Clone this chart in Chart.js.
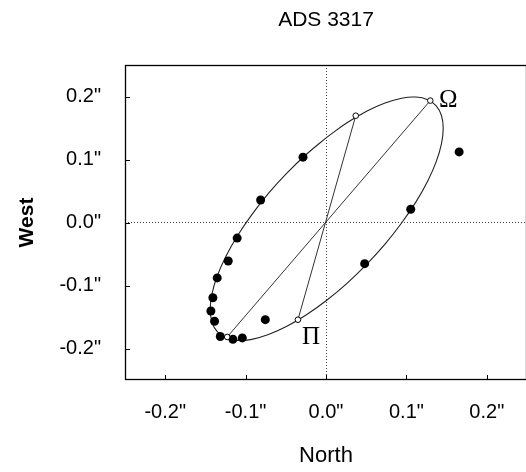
<!DOCTYPE html>
<html><head><meta charset="utf-8">
<script src="https://cdn.jsdelivr.net/npm/chart.js@4"></script>
<style>
html,body{margin:0;padding:0;background:#fff;overflow:hidden}
canvas{display:block}
</style></head>
<body><canvas id="c" width="534" height="472" style="width:534px;height:472px"></canvas>
<script>
const chartTitle = 'ADS 3317';
const xTitle = 'North';
const yTitle = 'West';
const tickValues = [-0.2, -0.1, 0, 0.1, 0.2];
const tickLabels = ['-0.2"', '-0.1"', '0.0"', '0.1"', '0.2"'];

// observed positions (filled dots)
const obsNorth = [-0.0286, -0.0813, -0.1105, -0.1216, -0.1353, -0.1407, -0.1432, -0.1386, -0.1315, -0.1158, -0.1041, -0.0755, 0.0481, 0.1054, 0.1656];
const obsWest  = [ 0.1037,  0.0358, -0.0248, -0.0611, -0.0879, -0.1195, -0.1405, -0.1568, -0.1810, -0.1853, -0.1832, -0.1542, -0.0653, 0.0210, 0.1121];

// orbit ellipse
const ellipseNorth = [0.0009, -0.0243, -0.0487, -0.0716, -0.0922, -0.1101, -0.1246, -0.1353, -0.1418, -0.1440, -0.1418, -0.1353, -0.1246, -0.1101, -0.0922, -0.0716, -0.0487, -0.0243, 0.0009, 0.0261, 0.0505, 0.0734, 0.0940, 0.1119, 0.1264, 0.1371, 0.1436, 0.1458, 0.1436, 0.1371, 0.1264, 0.1119, 0.0940, 0.0734, 0.0505, 0.0261, 0.0009];
const ellipseWest  = [0.1352, 0.1083, 0.0783, 0.0461, 0.0126, -0.0210, -0.0538, -0.0849, -0.1131, -0.1377, -0.1580, -0.1733, -0.1832, -0.1873, -0.1855, -0.1779, -0.1648, -0.1464, -0.1234, -0.0965, -0.0665, -0.0343, -0.0008, 0.0328, 0.0656, 0.0967, 0.1249, 0.1495, 0.1698, 0.1851, 0.1950, 0.1991, 0.1973, 0.1897, 0.1766, 0.1582, 0.1352];

// line of nodes and line of apsides
const nodeNorth = [0.1297, -0.1229];
const nodeWest  = [0.1935, -0.1817];
const apsNorth  = [0.0370, -0.0349];
const apsWest   = [0.1695, -0.1543];

// open markers and their labels
const markNorth  = [0.1297, 0.0370, -0.0349, -0.1229];
const markWest   = [0.1935, 0.1695, -0.1543, -0.1817];
const markLabels = ['Ω', '', 'Π', ''];

const pts = (xs, ys) => xs.map((x, i) => ({x: x, y: ys[i]}));
const FONT = "'Liberation Sans', Arial, Helvetica, sans-serif";

const decor = {
  id: 'decor',
  afterDraw(chart) {
    const ctx = chart.ctx, a = chart.chartArea;
    const xs = chart.scales.x, ys = chart.scales.y;
    ctx.save();
    // frame
    ctx.strokeStyle = '#000'; ctx.lineWidth = 1.3;
    ctx.strokeRect(a.left + 0.5, a.top + 0.5, a.right - a.left - 1, a.bottom - a.top - 1);
    // inward ticks
    ctx.lineWidth = 1;
    tickValues.forEach(v => {
      const px = Math.round(xs.getPixelForValue(v)) + 0.5;
      ctx.beginPath(); ctx.moveTo(px, a.bottom); ctx.lineTo(px, a.bottom - 5); ctx.stroke();
      const py = Math.round(ys.getPixelForValue(v)) + 0.5;
      ctx.beginPath(); ctx.moveTo(a.left, py); ctx.lineTo(a.left + 5, py); ctx.stroke();
    });
    // title centred on the plot
    ctx.fillStyle = '#000';
    ctx.font = '21px ' + FONT;
    ctx.textAlign = 'center'; ctx.textBaseline = 'middle';
    ctx.fillText(chartTitle, (xs.getPixelForValue(0)), 20);
    // marker labels
    ctx.font = "25px 'Liberation Serif', 'Times New Roman', serif";
    markLabels.forEach((t, i) => {
      if (!t) return;
      const px = xs.getPixelForValue(markNorth[i]);
      const py = ys.getPixelForValue(markWest[i]);
      if (t === 'Ω') ctx.fillText(t, px + 18, py);
      else ctx.fillText(t, px + 13, py + 18);
    });
    ctx.restore();
  }
};

const gridCfg = {
  drawTicks: false,
  lineWidth: 1,
  color: c => (c.tick && Math.abs(c.tick.value) < 1e-9) ? '#444' : 'rgba(0,0,0,0)'
};

new Chart(document.getElementById('c'), {
  type: 'scatter',
  data: {
    datasets: [
      { data: pts(markNorth, markWest), pointRadius: 2.8, pointBackgroundColor: '#fff', pointBorderColor: '#000', pointBorderWidth: 1, showLine: false },
      { data: pts(obsNorth, obsWest), pointRadius: 4.5, pointBackgroundColor: '#000', pointBorderColor: '#000', pointBorderWidth: 0, showLine: false },
      { data: pts(nodeNorth, nodeWest), showLine: true, pointRadius: 0, borderColor: '#333', borderWidth: 1 },
      { data: pts(apsNorth, apsWest), showLine: true, pointRadius: 0, borderColor: '#333', borderWidth: 1 },
      { data: pts(ellipseNorth, ellipseWest), showLine: true, pointRadius: 0, borderColor: '#222', borderWidth: 1.1, tension: 0.4 }
    ]
  },
  options: {
    responsive: false, animation: false,
    layout: { padding: { top: 65, right: 7, left: 0, bottom: 0 } },
    plugins: { legend: { display: false }, tooltip: { enabled: false }, title: { display: false } },
    scales: {
      x: {
        type: 'linear', min: -0.25, max: 0.25,
        afterBuildTicks: s => { s.ticks = tickValues.map(v => ({value: v})); },
        afterFit: s => { s.height = 92; },
        ticks: { padding: 20, color: '#000', font: { family: FONT, size: 20 },
                 callback: v => tickLabels[tickValues.findIndex(t => Math.abs(t - v) < 1e-9)] },
        grid: gridCfg,
        border: { display: false, dash: [1, 2] },
        title: { display: true, text: xTitle, color: '#000', font: { family: FONT, size: 22 }, padding: { top: 0, bottom: 3 } }
      },
      y: {
        type: 'linear', min: -0.25, max: 0.25,
        afterBuildTicks: s => { s.ticks = tickValues.map(v => ({value: v})); },
        afterFit: s => { s.width = 125; },
        ticks: { padding: 24, color: '#000', font: { family: FONT, size: 20 },
                 callback: v => tickLabels[tickValues.findIndex(t => Math.abs(t - v) < 1e-9)] },
        grid: gridCfg,
        border: { display: false, dash: [1, 2] },
        title: { display: true, text: yTitle, color: '#000', font: { family: FONT, size: 21, weight: 'bold' }, padding: { top: 15, bottom: 0 } }
      }
    }
  },
  plugins: [decor]
});
</script>
</body></html>
